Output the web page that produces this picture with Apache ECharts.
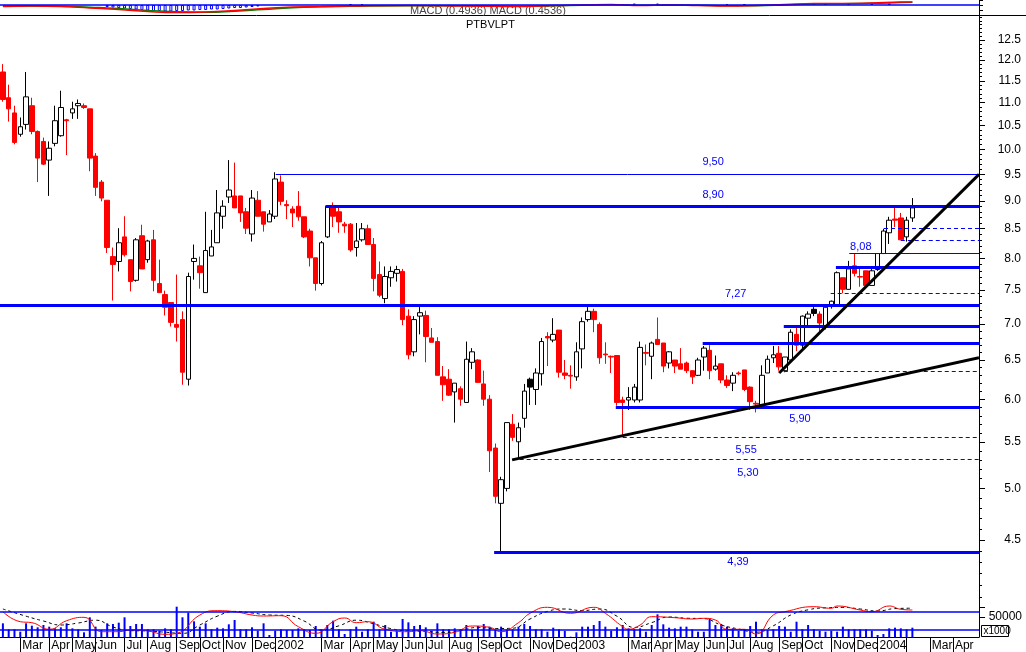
<!DOCTYPE html>
<html><head><meta charset="utf-8">
<script src="https://cdn.jsdelivr.net/npm/echarts@6/dist/echarts.min.js"></script>
<style>html,body{margin:0;padding:0;background:#fff}#c{width:1026px;height:652px}</style>
</head><body><div id="c"></div><script>
// ---------- DATA (weekly bars, Jan 29 2001 .. Feb 2004) ----------
const weekOpen = [11.71,11.11,10.77,10.31,10.52,10.93,10.37,10.16,9.78,10.12,10.28,10.62,10.77,10.93,10.93,10.86,9.86,9.35,9.01,8.03,7.95,8.36,7.98,7.65,8.38,7.98,8.31,7.60,7.43,7.31,6.99,7.06,6.25,7.95,7.88,7.46,8.04,8.26,8.72,9.07,9.09,9.09,8.80,8.41,9.01,8.80,8.62,8.72,9.35,8.93,8.85,8.90,8.71,8.46,8.01,7.60,8.36,8.90,8.80,8.58,8.58,8.18,8.31,8.50,8.23,7.74,7.37,7.69,7.76,7.79,7.11,6.61,7.11,7.12,6.80,6.75,6.28,6.25,6.09,6.13,5.96,6.47,6.50,6.19,6.00,5.43,4.85,5.00,5.70,5.50,5.77,6.25,6.12,6.32,6.82,6.77,6.91,6.33,6.30,6.28,6.65,7.06,7.18,6.99,6.58,6.55,6.56,5.99,5.99,5.99,5.99,6.60,6.55,6.78,6.73,6.46,6.50,6.45,6.46,6.36,6.30,6.54,6.63,6.38,6.45,6.24,6.20,6.33,6.37,6.15,5.95,5.93,6.33,6.53,6.59,6.36,6.50,6.85,6.70,7.08,7.21,7.14,6.95,7.25,7.27,7.69,7.51,7.88,7.71,7.80,7.57,7.82,8.08,8.43,8.67,8.69,8.36,8.69];
const weekClose = [11.07,10.86,10.14,10.47,11.13,10.37,9.82,9.70,10.02,10.60,10.89,10.60,10.86,10.98,10.89,9.82,9.25,9.05,8.18,7.90,8.26,8.06,7.63,8.31,7.83,8.29,7.65,7.46,7.24,7.02,6.95,6.34,7.71,8.00,7.77,8.13,8.19,8.78,8.90,9.20,8.87,8.78,8.51,9.05,8.72,8.58,8.76,9.41,8.99,8.91,8.78,8.71,8.36,8.01,7.60,8.26,8.90,8.72,8.62,8.55,8.14,8.29,8.50,8.23,7.68,7.42,7.71,7.79,7.82,7.06,6.57,7.06,7.16,6.82,6.74,6.30,6.18,6.05,6.20,6.00,6.51,6.61,6.21,6.00,5.40,4.92,5.09,5.72,5.55,5.66,6.10,6.15,6.33,6.75,6.80,6.85,6.34,6.30,6.29,6.61,7.03,7.18,7.06,6.53,6.57,6.54,5.96,5.96,6.02,6.15,6.67,6.59,6.73,6.71,6.42,6.61,6.42,6.38,6.36,6.28,6.50,6.66,6.36,6.42,6.24,6.17,6.30,6.32,6.12,5.97,5.94,6.30,6.51,6.57,6.41,6.54,6.88,6.70,7.11,7.14,7.15,7.01,7.24,7.33,7.77,7.51,7.83,7.76,7.70,7.57,7.80,8.08,8.46,8.65,8.65,8.31,8.65,8.87];
const weekLow = [11.02,10.58,10.10,10.26,10.41,10.31,9.35,9.68,9.09,10.06,10.26,9.88,10.64,10.64,10.86,9.56,9.09,8.99,8.09,7.34,7.79,8.03,7.48,7.63,7.83,7.93,7.48,7.46,7.12,6.96,6.75,6.18,6.17,7.66,7.52,7.46,8.04,8.26,8.50,8.96,8.87,8.62,8.41,8.28,8.72,8.45,8.62,8.67,8.92,8.67,8.53,8.64,8.34,7.87,7.49,7.57,8.34,8.53,8.43,8.43,8.11,8.03,8.28,8.23,7.48,7.39,7.30,7.55,7.63,6.98,6.51,6.55,6.85,6.47,6.74,6.30,5.98,6.04,5.72,5.92,5.96,6.38,6.21,5.92,5.17,4.85,4.40,4.97,5.51,5.33,5.66,5.93,5.93,6.17,6.42,6.74,6.27,6.25,6.13,6.23,6.39,7.03,6.88,6.45,6.45,6.33,5.92,5.56,5.87,5.96,5.96,6.43,6.25,6.71,6.34,6.39,6.33,6.38,6.33,6.19,6.29,6.36,6.25,6.36,6.20,6.14,6.10,6.30,6.10,5.87,5.84,5.93,6.33,6.46,6.36,6.34,6.48,6.62,6.66,6.98,7.11,6.89,6.92,7.22,7.25,7.45,7.51,7.71,7.55,7.57,7.57,7.80,8.08,8.24,8.53,8.31,8.28,8.62];
const weekHigh = [11.90,11.41,10.93,10.67,11.71,11.11,10.39,10.24,10.16,10.93,11.27,10.64,11.02,11.07,10.98,10.86,9.92,9.39,9.01,8.18,8.51,8.72,7.98,8.34,8.57,8.31,8.48,7.98,7.49,7.31,7.74,7.18,7.77,8.23,8.03,8.80,8.48,9.20,9.01,9.78,9.73,9.09,8.87,9.20,9.18,8.80,8.83,9.54,9.48,9.01,8.90,9.18,8.71,8.50,8.01,8.29,8.92,8.97,8.87,8.62,8.60,8.60,8.60,8.57,8.34,7.95,7.87,7.87,7.88,7.83,7.21,7.11,7.25,7.19,6.94,6.81,6.42,6.38,6.20,6.16,6.75,6.66,6.51,6.36,6.05,5.48,5.12,5.72,5.82,5.72,6.19,6.27,6.39,6.80,6.88,7.08,6.91,6.50,6.43,6.74,7.09,7.25,7.22,7.02,6.74,6.56,6.56,6.03,6.15,6.19,6.75,6.71,6.75,7.09,6.73,6.62,6.50,6.66,6.48,6.36,6.53,6.69,6.70,6.56,6.45,6.30,6.34,6.35,6.37,6.16,5.98,6.43,6.56,6.69,6.69,6.54,6.92,6.94,7.12,7.18,7.25,7.18,7.25,7.34,7.79,7.69,7.96,8.08,7.83,7.80,7.83,8.08,8.50,8.71,8.87,8.78,8.71,9.05];
const blackBodyWeeks = [91, 140];

const weekVolume = [34200,19200,19200,13300,34200,28300,24200,30000,25800,21700,24200,34200,21700,19200,11700,49200,25800,17500,34200,32500,35800,49200,27500,32500,32500,19200,19200,15800,21700,19200,75800,49200,60800,39200,25800,34200,19200,23300,21700,31700,42500,19200,19200,24200,15800,34200,5000,15800,19200,17500,17500,21700,19200,17500,27500,19200,30000,40800,19200,7500,19200,25800,13300,19200,38300,19200,30000,13300,15800,45000,36700,27500,30000,24200,15800,34200,19200,19200,21700,19200,30000,17500,27500,32500,25800,17500,25800,19200,19200,25800,32500,27500,19200,19200,13300,23300,19200,15000,800,11700,25800,25800,30000,40000,25800,15800,24200,30000,21700,19200,21700,13300,30000,56700,31700,23300,21700,25800,25800,19200,13300,13300,45000,30000,32500,25800,21700,15800,19200,27500,38300,19200,17500,19200,27500,25800,13300,38300,19200,30000,19200,15800,13300,15800,13300,25800,19200,19200,19200,19200,15800,5000,7500,21700,23300,21700,19200,23300];
const volumeRefLevels = [64250, 19250];
const volShortMA = [[0,63250],[3,38250],[5,35750],[8,19250],[11,40750],[14,49250],[17,13250],[20,13250],[22,17500],[25,15000],[28,6750],[30,9250],[34,55000],[37,65750],[40,63250],[43,55000],[45,52500],[48,53250],[51,25750],[54,9250],[57,38250],[59,47500],[61,35750],[63,38250],[66,19250],[70,13250],[72,15750],[75,7500],[78,11750],[81,27500],[84,24250],[86,13250],[89,35750],[91,59250],[94,74250],[98,59250],[102,74250],[104,59250],[107,25750],[108,19250],[110,30000],[112,50750],[116,48250],[119,45000],[121,46750],[123,42500],[125,19250],[128,19250],[130,7500],[133,55000],[135,63250],[140,75750],[143,71750],[144,77500],[148,67500],[150,63250],[153,77500],[155,69250],[157,67500]];
const volLongMA = [[0,70000],[4,52000],[7,40000],[10,30000],[13,35000],[16,42000],[19,25000],[22,16000],[25,15000],[28,12000],[31,9000],[34,30000],[37,52000],[40,64000],[43,60000],[46,55000],[49,54000],[52,40000],[55,17000],[58,28000],[61,42000],[64,33000],[67,21000],[70,15000],[73,14000],[76,11000],[79,16000],[82,24000],[85,21000],[88,22000],[91,45000],[94,64000],[97,70000],[100,66000],[103,70000],[106,52000],[109,24000],[112,36000],[115,50000],[118,47000],[121,46000],[124,30000],[127,20000],[130,12000],[133,28000],[136,55000],[139,68000],[142,73000],[145,74000],[148,70000],[151,65000],[154,71000],[157,72000]];

const macdLine = [[0,-0.15],[5,-0.1],[10,-0.15],[15,-0.3],[20,-0.45],[25,-0.65],[30,-0.75],[35,-0.7],[40,-0.55],[45,-0.35],[50,-0.2],[55,-0.15],[60,-0.1],[70,-0.05],[80,-0.1],[90,-0.15],[95,-0.05],[100,0.0],[105,0.05],[110,-0.05],[115,0.0],[120,-0.05],[125,-0.1],[130,-0.05],[135,0.05],[140,0.15],[145,0.15],[150,0.2],[155,0.3],[157,0.3]];
const macdSignal = [[0,-0.1],[5,-0.1],[10,-0.12],[15,-0.22],[20,-0.35],[25,-0.55],[30,-0.68],[35,-0.72],[40,-0.62],[45,-0.45],[50,-0.28],[55,-0.18],[60,-0.12],[70,-0.07],[80,-0.08],[90,-0.12],[95,-0.08],[100,-0.02],[105,0.02],[110,-0.02],[115,-0.01],[120,-0.03],[125,-0.08],[130,-0.07],[135,0.0],[140,0.1],[145,0.13],[150,0.17],[155,0.25],[157,0.27]];
const macdHist = [[18,-0.2],[19,-0.25],[20,-0.3],[21,-0.35],[22,-0.4],[23,-0.45],[24,-0.5],[25,-0.55],[26,-0.6],[27,-0.6],[28,-0.65],[29,-0.65],[30,-0.6],[31,-0.6],[32,-0.55],[33,-0.55],[34,-0.5],[35,-0.5],[36,-0.45],[37,-0.45],[38,-0.4],[39,-0.35],[40,-0.3],[41,-0.3],[42,-0.25],[43,-0.2],[44,-0.15],[60,0.1],[62,0.1],[107,0.1],[109,0.15],[113,0.15],[125,0.1],[128,0.1],[140,0.1],[142,0.15],[146,0.15],[150,0.1],[153,0.15]];

const levelPrice    = [9.50, 8.90, 7.27, 8.08, 7.85, 7.45, 6.96, 6.72, 6.35, 5.90, 5.55, 5.30, 4.39, 8.50, 8.29];
const levelFromWeek = [47.1, 55.7, -1, 146.1, 143.8, 142.9, 134.8, 120.8, 134.8, 105.8, 107.0, 88.0, 84.8, 152.1, 155.0];
const trendFrom = [[87.9, 5.30], [134.0, 6.33]];
const trendTo   = [[168.5, 6.53], [168.5, 9.50]];

const priceTicks = [4.5,5.0,5.5,6.0,6.5,7.0,7.5,8.0,8.5,9.0,9.5,10.0,10.5,11.0,11.5,12.0,12.5];
const monthTickWeeks  = [4,9,13,17,22,26,31,35,39,44,48,56,61,65,70,74,78,83,87,92,96,100,109,113,117,122,126,130,135,139,144,148,152,157,161,165];
const monthTickLabels = ['Mar','Apr','May','Jun','Jul','Aug','Sep','Oct','Nov','Dec','2002','Mar','Apr','May','Jun','Jul','Aug','Sep','Oct','Nov','Dec','2003','Mar','Apr','May','Jun','Jul','Aug','Sep','Oct','Nov','Dec','2004','','Mar','Apr'];

// ---------- STYLE / LAYOUT ----------
const SLOTS = 169;
const levelKind = ['thin','thick','thick','thin','thick','dash','thick','thick','dash','thick','dash','dash','thick','dash','dash'];
const levelLabelAt = {0:{w:122.6,dy:-12},1:{w:122.6,dy:-11},2:{w:126.5,dy:-11.5},3:{w:148.1,dy:-6.5},9:{w:137.6,dy:12},10:{w:128.3,dy:13},11:{w:128.6,dy:13},12:{w:126.9,dy:10}};
const FONT = '"Liberation Sans", Arial, sans-serif';

const weekCats = [];
for (let i = 0; i < SLOTS; i++) {
  const d = new Date(Date.UTC(2001, 0, 29) + i * 7 * 864e5);
  weekCats.push(d.toISOString().slice(0, 10));
}
const tickCat = {};
monthTickWeeks.forEach((w, k) => { tickCat[w - 1] = monthTickLabels[k]; });

const candleData = weekOpen.map((o, i) => {
  const item = { value: [o, weekClose[i], weekLow[i], weekHigh[i]] };
  if (blackBodyWeeks.indexOf(i) >= 0) item.itemStyle = { color0: '#000', borderColor0: '#000' };
  return item;
});
const minorTicks = [];
for (let v = 39; v <= 131; v++) minorTicks.push(v / 10);

function renderLevel(params, api) {
  const cs = params.coordSys, k = params.dataIndex;
  const price = api.value(1);
  const p = api.coord([api.value(0), price]);
  const kind = levelKind[k];
  const lw = kind === 'thick' ? 3 : 1;
  const y = lw % 2 ? Math.round(p[1] - 0.5) + 0.5 : Math.round(p[1]);
  const children = [{
    type: 'line', silent: true,
    shape: { x1: Math.max(cs.x, p[0]), y1: y, x2: cs.x + cs.width, y2: y },
    style: { stroke: '#0000ff', lineWidth: lw, lineDash: kind === 'dash' ? [4, 3] : null }
  }];
  const lab = levelLabelAt[k];
  if (lab) {
    const lp = api.coord([lab.w, price]);
    children.push({
      type: 'text', silent: true, x: lp[0], y: p[1] + lab.dy,
      style: { text: price.toFixed(2).replace('.', ','), fill: '#0000ff', fontSize: 11, fontFamily: FONT, align: 'center', verticalAlign: 'middle' }
    });
  }
  return { type: 'group', children };
}
function renderTrend(params, api) {
  const a = api.coord([api.value(0), api.value(1)]);
  const b = api.coord([api.value(2), api.value(3)]);
  return { type: 'line', silent: true, shape: { x1: a[0], y1: a[1], x2: b[0], y2: b[1] }, style: { stroke: '#000', lineWidth: 3 } };
}

const chart = echarts.init(document.getElementById('c'), null, { renderer: 'canvas' });
chart.setOption({
  animation: false,
  backgroundColor: '#fff',
  grid: [
    { left: 0, right: 47, top: 0, height: 15 },
    { left: 0, right: 47, top: 16, height: 590 },
    { left: 0, right: 47, top: 605, height: 32 }
  ],
  xAxis: [
    { type: 'category', gridIndex: 0, data: weekCats, show: false },
    { type: 'category', gridIndex: 1, data: weekCats, show: false },
    { type: 'category', gridIndex: 2, data: weekCats,
      axisLine: { show: true, onZero: false, lineStyle: { color: '#000', width: 1 } },
      axisTick: { show: true, alignWithLabel: true, length: 15, interval: (i) => tickCat[i] !== undefined, lineStyle: { color: '#000' } },
      axisLabel: { show: true, interval: (i) => tickCat[i] !== undefined, formatter: (v, i) => tickCat[i] || '',
        align: 'left', padding: [0, 0, 0, 2], margin: 3, color: '#000', fontSize: 12, fontFamily: FONT, hideOverlap: false },
      splitLine: { show: false } },
    { type: 'value', gridIndex: 1, min: -0.5, max: SLOTS - 0.5, show: false, axisLine: { onZero: false } }
  ],
  yAxis: [
    { type: 'value', gridIndex: 0, position: 'right', min: -1, max: 0.5,
      axisLine: { show: true, onZero: false, lineStyle: { color: '#000' } },
      axisTick: { show: true, length: 4, customValues: [-0.5, 0, 0.5], lineStyle: { color: '#000' } },
      axisLabel: { show: false }, splitLine: { show: false } },
    { type: 'log', gridIndex: 1, position: 'right', logBase: 10, min: 3.932, max: 13.129,
      axisLine: { show: true, onZero: false, lineStyle: { color: '#000' } },
      axisTick: { show: true, length: 6, customValues: priceTicks, lineStyle: { color: '#000' } },
      axisLabel: { show: true, customValues: priceTicks, formatter: (v) => Number(v).toFixed(1), align: 'right', margin: 42,
        color: '#000', fontSize: 12, fontFamily: FONT },
      splitLine: { show: false } },
    { type: 'value', gridIndex: 2, position: 'right', min: 0, max: 80000,
      axisLine: { show: true, onZero: false, lineStyle: { color: '#000' } },
      axisTick: { show: true, length: 6, customValues: [50000, 75000], lineStyle: { color: '#000' } },
      axisLabel: { show: true, customValues: [50000], formatter: (v) => String(v), align: 'right', margin: 43,
        color: '#000', fontSize: 12, fontFamily: FONT },
      splitLine: { show: false } },
    { type: 'log', gridIndex: 1, position: 'right', logBase: 10, min: 3.932, max: 13.129, offset: 0,
      axisLine: { show: false, onZero: false },
      axisTick: { show: true, length: 3, customValues: minorTicks, lineStyle: { color: '#000' } },
      axisLabel: { show: false }, splitLine: { show: false } }
  ],
  series: [
    { type: 'bar', name: 'MACD hist', xAxisIndex: 0, yAxisIndex: 0, data: macdHist, barWidth: 3,
      itemStyle: { color: '#fff', borderColor: '#0000ff', borderWidth: 1 },
      markLine: { silent: true, symbol: 'none', label: { show: false }, lineStyle: { color: '#0000ff', width: 1.5, type: 'solid' }, data: [{ yAxis: 0 }] } },
    { type: 'line', name: 'Signal', xAxisIndex: 0, yAxisIndex: 0, data: macdSignal, smooth: true, showSymbol: false, lineStyle: { color: '#008000', width: 1.5 } },
    { type: 'line', name: 'MACD', xAxisIndex: 0, yAxisIndex: 0, data: macdLine, smooth: true, showSymbol: false, lineStyle: { color: '#ff0000', width: 1.5 } },
    { type: 'candlestick', name: 'PTBVLPT', xAxisIndex: 1, yAxisIndex: 1, data: candleData, barWidth: 5,
      itemStyle: { color: '#ffffff', color0: '#ff0000', borderColor: '#000000', borderColor0: '#ff0000', borderWidth: 1 } },
    { type: 'custom', name: 'levels', xAxisIndex: 3, yAxisIndex: 1, renderItem: renderLevel, clip: false,
      encode: { x: 0, y: 1 }, data: levelPrice.map((p, i) => [levelFromWeek[i], p]), z: 3 },
    { type: 'custom', name: 'trend', xAxisIndex: 3, yAxisIndex: 1, renderItem: renderTrend, clip: true,
      encode: { x: [0, 2], y: [1, 3] }, data: trendFrom.map((f, i) => [f[0], f[1], trendTo[i][0], trendTo[i][1]]), z: 4 },
    { type: 'bar', name: 'Volume', xAxisIndex: 2, yAxisIndex: 2, data: weekVolume, barWidth: 2,
      itemStyle: { color: '#0000ff' },
      markLine: { silent: true, symbol: 'none', label: { show: false }, lineStyle: { color: '#0000ff', width: 1.5, type: 'solid' },
        data: volumeRefLevels.map(v => ({ yAxis: v })) } },
    { type: 'line', name: 'Vol MA long', xAxisIndex: 2, yAxisIndex: 2, data: volLongMA, smooth: true, showSymbol: false,
      lineStyle: { color: '#000', width: 1, type: [3, 3] } },
    { type: 'line', name: 'Vol MA short', xAxisIndex: 2, yAxisIndex: 2, data: volShortMA, smooth: true, showSymbol: false,
      lineStyle: { color: '#ff0000', width: 1 } }
  ],
  graphic: [
    { type: 'line', silent: true, shape: { x1: 0, y1: 15.5, x2: 1026, y2: 15.5 }, style: { stroke: '#000', lineWidth: 1 } },
    { type: 'text', silent: true, left: 410, top: 5, style: { text: 'MACD (0.4936) MACD (0.4536)', fill: '#444', fontSize: 11, fontFamily: FONT } },
    { type: 'text', silent: true, left: 466, top: 19, style: { text: 'PTBVLPT', fill: '#000', fontSize: 11, fontFamily: FONT } },
    { type: 'group', left: 981, top: 625, children: [
      { type: 'rect', shape: { x: 0, y: 0, width: 27, height: 11 }, style: { fill: '#fff', stroke: '#000', lineWidth: 1 } },
      { type: 'text', x: 2, y: 1, style: { text: 'x1000', fill: '#000', fontSize: 10, fontFamily: FONT } }
    ] }
  ]
});
</script></body></html>
